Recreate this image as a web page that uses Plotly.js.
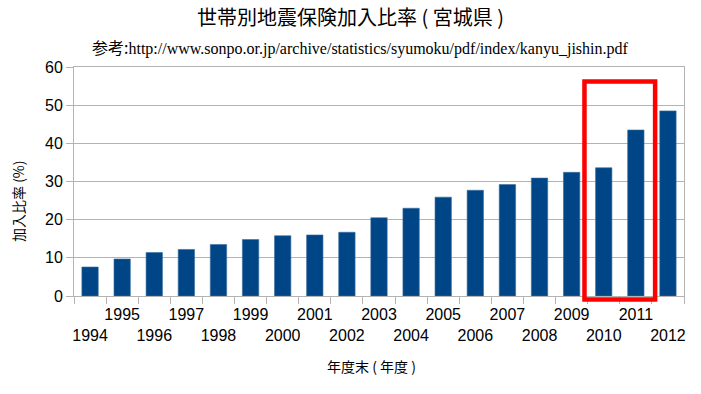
<!DOCTYPE html>
<html>
<head>
<meta charset="utf-8">
<script src="https://cdn.plot.ly/plotly-3.0.1.min.js"></script>
<style>html,body{margin:0;padding:0;background:#fff;}#chart{width:701px;height:394px;}</style>
</head>
<body>
<div id="chart"></div>
<script>
const years = ["1994","1995","1996","1997","1998","1999","2000","2001","2002","2003","2004","2005","2006","2007","2008","2009","2010","2011","2012"];
const rates = [7.6, 9.7, 11.4, 12.2, 13.5, 14.8, 15.8, 16.0, 16.7, 20.5, 23.0, 25.9, 27.7, 29.2, 30.9, 32.4, 33.6, 43.5, 48.5];
const yTicks = [0, 10, 20, 30, 40, 50, 60];
const yRange = [0, 60];
const highlightYears = ["2010", "2011"];
const highlightTop = 56.2;
const highlightBottom = -0.9;

const tickText = years.map((y) => (parseInt(y) % 2 === 1) ? y : "\u00a0<br>" + y);

const i0 = years.indexOf(highlightYears[0]);
const i1 = years.indexOf(highlightYears[highlightYears.length - 1]);

const trace = {
  type: 'bar',
  x: years,
  y: rates,
  marker: {color: '#004586', line: {color: '#3a6fa3', width: 0.6}},
  hoverinfo: 'x+y'
};

const W = 701, H = 394;
const M = {l: 74, r: 17, t: 67, b: 98};
const plotH = H - M.t - M.b;
const plotW = W - M.l - M.r;
const py = (px) => (H - M.b - px) / plotH;   // pixel y -> paper y
const pxX = (px) => (px - M.l) / plotW;       // pixel x -> paper x
const toPaperY = (v) => (v - yRange[0]) / (yRange[1] - yRange[0]);

const gray = '#b3b3b3';
const cjk = '"Noto Sans CJK JP", sans-serif';
const layout = {
  width: W, height: H,
  margin: M,
  paper_bgcolor: '#fff', plot_bgcolor: '#fff',
  showlegend: false,
  bargap: 0.49,
  font: {family: '"Liberation Sans", Arial, sans-serif', color: '#000'},
  title: {
    text: '世帯別地震保険加入比率 ( 宮城県 )',
    font: {family: cjk, size: 20, color: '#000'},
    x: 0.5, xanchor: 'center', y: 0.955, yanchor: 'middle'
  },
  annotations: [
    {
      xref: 'paper', yref: 'paper', x: pxX(360), y: py(47), xanchor: 'center', yanchor: 'middle',
      text: '<span style="font-family:Noto Sans CJK JP">参考:</span>http://www.sonpo.or.jp/archive/statistics/syumoku/pdf/index/kanyu_jishin.pdf',
      showarrow: false,
      font: {family: '"Liberation Serif", "Times New Roman", serif', size: 16, color: '#000'}
    },
    {
      xref: 'paper', yref: 'paper', x: pxX(371), y: py(366), xanchor: 'center', yanchor: 'middle',
      text: '年度末 ( 年度 )', showarrow: false,
      font: {family: cjk, size: 14, color: '#000'}
    },
    {
      xref: 'paper', yref: 'paper', x: pxX(18), y: py(201), xanchor: 'center', yanchor: 'middle',
      text: '加入比率 (%)', showarrow: false, textangle: -90,
      font: {family: cjk, size: 14, color: '#000'}
    }
  ],
  xaxis: {
    type: 'category',
    tickmode: 'array', tickvals: years, ticktext: tickText,
    tickson: 'boundaries', ticks: 'outside', ticklen: 7, tickcolor: gray, tickwidth: 1,
    ticklabelstandoff: 4,
    showline: true, linecolor: gray, linewidth: 1, mirror: true,
    showgrid: false, zeroline: false,
    tickangle: 0,
    tickfont: {size: 16, color: '#000'}
  },
  yaxis: {
    range: yRange, tickvals: yTicks, ticktext: yTicks.map(String), tickmode: 'array',
    ticks: 'outside', ticklen: 7, tickcolor: gray, tickwidth: 1,
    showline: true, linecolor: gray, linewidth: 1, mirror: true,
    showgrid: true, gridcolor: gray, gridwidth: 1, zeroline: false,
    tickfont: {size: 16, color: '#000'}
  },
  shapes: [{
    type: 'rect', xref: 'x', yref: 'paper',
    x0: i0 - 0.6, x1: i1 + 0.6, y0: toPaperY(highlightBottom), y1: toPaperY(highlightTop),
    line: {color: '#ff0000', width: 4.5}, fillcolor: 'rgba(0,0,0,0)'
  }]
};

Plotly.newPlot('chart', [trace], layout, {displayModeBar: false, staticPlot: true});
</script>
</body>
</html>
